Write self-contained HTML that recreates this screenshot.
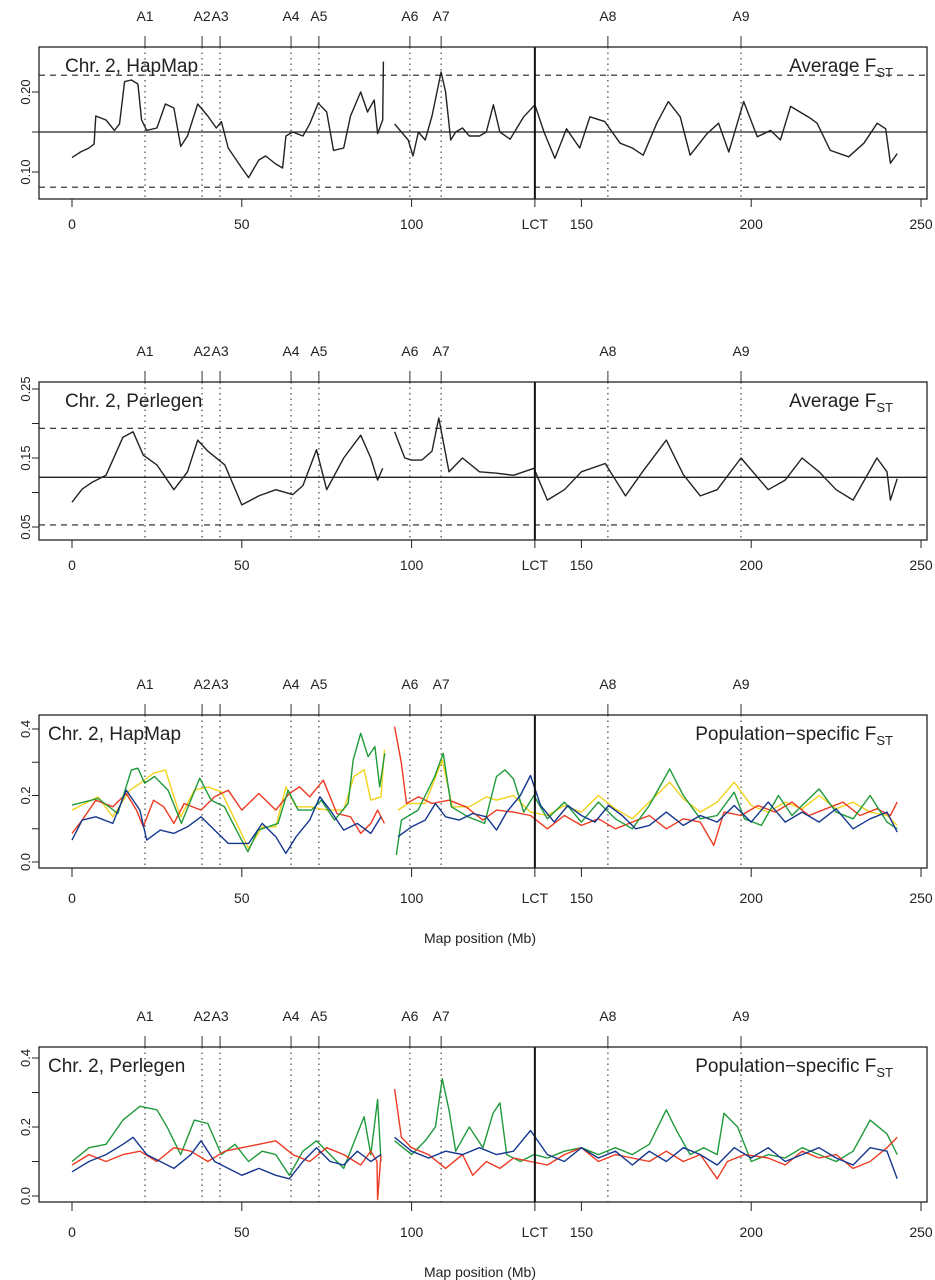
<!DOCTYPE html>
<html><head><meta charset="utf-8"><style>
body{margin:0;background:#fff}
svg{display:block;font-family:"Liberation Sans",sans-serif}
</style></head><body>
<svg id="c" width="935" height="1280" viewBox="0 0 935 1280"></svg>
<script>
// ---------- data ----------
const annotNames=["A1","A2","A3","A4","A5","A6","A7","A8","A9"];
const annotPos=[21.5,38.3,43.6,64.5,72.7,99.5,108.7,157.8,197];
const lctPos=136.3;
const xTicks=[0,50,100,150,200,250];

const hapAvgX=[0,2.5,5,6.5,7,10,12.5,14,15.5,17.5,19.4,20.5,22,25,27.5,30,32,34,37,40,42.5,44,46,50,52,55,57,60,62,63,65,68,70,72.5,75,77,80,82,85,87,89,90,91.5,91.7,93,95,97,99,100.4,102,104,106,108.7,110,111.5,113,115,117,120,122,124.1,126,129,133,136.3,139,142.2,145.6,149.5,152.5,156.9,161.4,165,168.2,172.2,175.6,179.1,182,187,190.4,193.4,197.8,201.8,205.7,208.6,211.6,217.5,219.4,223.3,228.7,233.2,237.1,239.6,241,243];
const hapAvgV=[0.118,0.125,0.130,0.135,0.170,0.165,0.152,0.160,0.213,0.215,0.210,0.165,0.152,0.155,0.185,0.180,0.132,0.145,0.185,0.170,0.155,0.163,0.130,0.105,0.093,0.115,0.120,0.110,0.105,0.145,0.150,0.145,0.160,0.186,0.175,0.127,0.130,0.170,0.200,0.175,0.190,0.148,0.165,0.238,null,0.160,0.150,0.140,0.120,0.150,0.140,0.170,0.225,0.200,0.140,0.150,0.155,0.145,0.145,0.150,0.184,0.150,0.141,0.169,0.184,0.150,0.117,0.154,0.130,0.169,0.163,0.136,0.130,0.121,0.161,0.188,0.169,0.121,0.148,0.161,0.125,0.188,0.144,0.152,0.140,0.182,0.167,0.161,0.127,0.119,0.136,0.161,0.154,0.111,0.123];

const perAvgX=[0,3,6,10,15,18,21,25,30,34,37,40,45,50,55,60,65,68,72,75,80,85,88,90,91.5,93,95,98,100,103,106,108,111,115,120,125,130,136,140,145,150,157,163,168,175,180,185,190,197,205,210,215,220,225,230,237,240,241,243];
const perAvgV=[0.086,0.105,0.115,0.125,0.180,0.188,0.154,0.140,0.104,0.130,0.176,0.160,0.140,0.082,0.095,0.104,0.097,0.110,0.162,0.104,0.150,0.183,0.150,0.118,0.135,null,0.188,0.150,0.147,0.147,0.160,0.208,0.130,0.150,0.130,0.128,0.125,0.135,0.089,0.104,0.130,0.142,0.095,0.130,0.176,0.126,0.095,0.104,0.150,0.104,0.118,0.150,0.130,0.104,0.089,0.150,0.130,0.089,0.120];

const hmGreenX=[0,7.7,13.5,17.5,19.4,21.4,24.3,28.3,32.2,37.6,41,44.9,48.9,51.8,54.8,60.7,63.6,66.6,70.5,73.4,77.3,81.3,82.8,85,87.2,89.2,90.6,92.1,93.5,95.5,97,101.9,106.8,109.3,111.7,116.6,121.5,125,127.5,130,133,136,140,145,150,155,160,165,170,176,180,185,190,195,198,203,208,212,216,220,225,230,235,240,243];
const hmGreenV=[0.171,0.191,0.146,0.277,0.282,0.237,0.257,0.216,0.116,0.252,0.186,0.166,0.086,0.031,0.096,0.116,0.216,0.156,0.156,0.186,0.126,0.176,0.307,0.387,0.317,0.347,0.226,0.327,null,0.021,0.126,0.156,0.257,0.327,0.166,0.136,0.116,0.257,0.277,0.25,0.15,0.2,0.13,0.18,0.12,0.18,0.13,0.1,0.17,0.28,0.2,0.13,0.14,0.21,0.13,0.11,0.2,0.14,0.18,0.22,0.15,0.13,0.2,0.12,0.1];
const hmYellowX=[0,7.7,12,17,20,24,27.5,30,32,36,40,44,48,52,56,60,63,66,70,75,80,83,86,88,91,92,93.5,96,99,104,109,112,117,122,125,130,135,140,145,150,155,160,165,170,176,180,185,190,195,200,205,210,215,220,225,230,235,240,243];
const hmYellowV=[0.156,0.196,0.136,0.216,0.236,0.267,0.277,0.196,0.136,0.216,0.226,0.211,0.126,0.041,0.106,0.106,0.226,0.166,0.166,0.156,0.156,0.257,0.277,0.186,0.196,0.337,null,0.156,0.176,0.176,0.307,0.166,0.166,0.196,0.186,0.2,0.15,0.14,0.17,0.15,0.2,0.16,0.13,0.18,0.24,0.19,0.15,0.18,0.24,0.17,0.15,0.18,0.16,0.2,0.16,0.18,0.15,0.14,0.11];
const hmRedX=[0,3,7,12,16,19,21,24,27,30,33,38,42,46,50,55,60,64,67,70,74,78,82,85,88,90,92,93.5,95,97,98.5,102,106,111,116,121,125,130,135,140,145,150,155,160,165,170,175,180,185,189,192,197,202,207,212,217,222,227,232,237,241,243];
const hmRedV=[0.086,0.126,0.186,0.166,0.206,0.156,0.106,0.186,0.166,0.116,0.176,0.156,0.196,0.216,0.156,0.206,0.156,0.206,0.226,0.196,0.246,0.146,0.136,0.086,0.116,0.156,0.116,null,0.407,0.297,0.176,0.196,0.176,0.186,0.166,0.126,0.156,0.15,0.14,0.1,0.14,0.11,0.13,0.1,0.12,0.14,0.1,0.13,0.12,0.05,0.15,0.14,0.17,0.15,0.18,0.14,0.16,0.18,0.14,0.16,0.14,0.18];
const hmBlueX=[0,3,7,12,16,20,22,26,30,34,38,42,46,52,56,60,63,66,70,73,76,80,84,88,91,93.5,96,100,104,107,110,114,118,122,125,128,132,135,138,142,146,150,154,158,162,166,170,175,180,185,190,195,200,205,210,215,220,225,230,235,240,243];
const hmBlueV=[0.066,0.126,0.136,0.116,0.216,0.156,0.066,0.096,0.086,0.106,0.136,0.096,0.056,0.056,0.116,0.076,0.026,0.076,0.126,0.196,0.156,0.096,0.116,0.086,0.136,null,0.076,0.106,0.126,0.176,0.136,0.126,0.146,0.136,0.096,0.15,0.2,0.26,0.17,0.12,0.17,0.14,0.12,0.17,0.14,0.1,0.11,0.15,0.11,0.14,0.12,0.17,0.12,0.18,0.12,0.15,0.12,0.16,0.1,0.13,0.15,0.09];

const plGreenX=[0,5,10,15,20,25,28,32,36,40,44,48,52,56,60,64,68,72,76,80,84,86,88,90,91,93,95,100,104,107,109,111,113,117,121,124,126,128,132,136,140,145,150,155,160,165,170,175,178,182,186,190,192,196,200,205,210,215,220,225,230,235,240,243];
const plGreenV=[0.1,0.14,0.15,0.22,0.26,0.25,0.2,0.12,0.22,0.21,0.12,0.15,0.1,0.13,0.12,0.06,0.13,0.16,0.12,0.08,0.18,0.23,0.12,0.28,0.1,null,0.16,0.12,0.16,0.2,0.34,0.25,0.13,0.2,0.14,0.24,0.27,0.12,0.1,0.12,0.11,0.13,0.14,0.12,0.14,0.12,0.15,0.25,0.19,0.12,0.14,0.12,0.24,0.2,0.1,0.12,0.11,0.14,0.12,0.1,0.13,0.22,0.18,0.12];
const plBlueX=[0,5,10,15,18,22,26,30,35,38,42,46,50,55,60,64,68,72,76,80,84,88,91,93,95,100,105,110,115,120,125,130,135,140,145,150,155,160,165,170,175,180,185,190,195,200,205,210,215,220,225,230,235,240,243];
const plBlueV=[0.07,0.1,0.12,0.15,0.17,0.12,0.1,0.08,0.12,0.16,0.1,0.08,0.06,0.08,0.06,0.05,0.1,0.14,0.1,0.09,0.13,0.1,0.12,null,0.17,0.13,0.11,0.13,0.12,0.14,0.12,0.13,0.19,0.12,0.1,0.14,0.11,0.13,0.09,0.13,0.1,0.14,0.12,0.09,0.14,0.11,0.14,0.1,0.12,0.14,0.11,0.09,0.14,0.13,0.05];
const plRedX=[0,5,10,15,20,25,30,35,40,45,50,55,60,65,70,75,80,85,88,89.8,90,91,93,95,97,100,105,110,115,118,122,126,130,135,140,145,150,155,160,165,170,175,180,185,190,193,198,205,210,215,220,225,230,235,240,243];
const plRedV=[0.09,0.12,0.1,0.12,0.13,0.1,0.14,0.13,0.1,0.13,0.14,0.15,0.16,0.12,0.1,0.14,0.12,0.09,0.13,0.1,-0.01,0.12,null,0.31,0.17,0.14,0.12,0.08,0.12,0.06,0.1,0.08,0.11,0.1,0.09,0.12,0.14,0.1,0.12,0.11,0.1,0.13,0.1,0.12,0.05,0.1,0.12,0.11,0.09,0.13,0.11,0.12,0.08,0.1,0.14,0.17];

// ---------- drawing ----------
const NS="http://www.w3.org/2000/svg";
const svg=document.getElementById('c');
function mk(tag,attrs,parent){const e=document.createElementNS(NS,tag);for(const k in attrs)e.setAttribute(k,attrs[k]);(parent||svg).appendChild(e);return e;}
const xS=mb=>72+mb*3.396;
const L=39,R=927;

function panel(cfg){
  const g=mk('g',{});
  
  
  const yS=v=>cfg.y0-(v-cfg.v0)*cfg.k;
  annotNames.forEach((n,i)=>{
    const x=xS(annotPos[i]);
    const t=mk('text',{x:x,y:cfg.top-26,'font-size':14,'text-anchor':'middle',fill:'#222'},g);t.textContent=n;
    
    
    mk('line',{x1:x,x2:x,y1:cfg.top-11,y2:cfg.top,stroke:'#333','stroke-width':1},g);
    const d=mk('line',{x1:x,x2:x,y1:cfg.top,y2:cfg.bot,stroke:'#444','stroke-width':1.2,'stroke-dasharray':'1.5 4'},g);
    
    
  });
  (cfg.hlines||[]).forEach(h=>{
    mk('line',{x1:L,x2:R,y1:yS(h.v),y2:yS(h.v),stroke:'#222','stroke-width':h.dash?1.1:1.3,'stroke-dasharray':h.dash?'6 5':'none'},g);
  });
  cfg.series.forEach(s=>{
    let d='',pen=false;
    s.x.forEach((mb,i)=>{const v=s.v[i];if(v===null){pen=false;return;}
      d+=(pen?'L':'M')+xS(mb).toFixed(1)+' '+yS(v).toFixed(1);pen=true;});
    const p=mk('path',{d:d,fill:'none',stroke:s.color,'stroke-width':1.4,'stroke-linejoin':'round'},g);
    
    
  });
  mk('line',{x1:xS(lctPos),x2:xS(lctPos),y1:cfg.top,y2:cfg.bot,stroke:'#111','stroke-width':2},g);
  const b=mk('rect',{x:L,y:cfg.top,width:R-L,height:cfg.bot-cfg.top,fill:'none',stroke:'#222','stroke-width':1.3},g);
  
  
  const xt=xTicks.map(v=>({p:v,l:String(v)})).concat([{p:lctPos,l:'LCT'}]);
  xt.forEach(t=>{const x=xS(t.p);
    mk('line',{x1:x,x2:x,y1:cfg.bot,y2:cfg.bot+cfg.tk,stroke:'#222'},g);
    const tx=mk('text',{x:x,y:cfg.bot+cfg.lab,'font-size':14,'text-anchor':'middle',fill:'#222'},g);tx.textContent=t.l;
    
    
  });
  cfg.yt.forEach(v=>{const y=yS(v);mk('line',{x1:L-7,x2:L,y1:y,y2:y,stroke:'#222'},g);});
  cfg.yl.forEach(v=>{const y=yS(v);
    const t=mk('text',{x:0,y:0,'font-size':13,'text-anchor':'middle',fill:'#222',transform:`translate(30 ${y}) rotate(-90)`},g);
    t.textContent=v.toFixed(cfg.dec);
    
    
  });
  const tt=mk('text',{x:cfg.titleX,y:cfg.top+25,'font-size':19,fill:'#222'},g);tt.textContent=cfg.title;
  
  
  const rt=mk('text',{x:893,y:cfg.top+25,'font-size':19,'text-anchor':'end',fill:'#222'},g);
  rt.innerHTML=cfg.right+' F<tspan font-size="13" dy="5">ST</tspan>';
  
  
  if(cfg.xlab){const xl=mk('text',{x:480,y:cfg.bot+75,'font-size':14,'text-anchor':'middle',fill:'#222'},g);xl.textContent='Map position (Mb)';
    
    }
}

panel({name:'panel-hapmap-average',top:47,bot:199,y0:92,v0:0.20,k:800,dec:2,tk:8,lab:30,yt:[0.10,0.15,0.20],yl:[0.10,0.20],
  hlines:[{v:0.150},{v:0.221,dash:1},{v:0.081,dash:1}],title:'Chr. 2, HapMap',titleX:65,right:'Average',
  series:[{name:'hapmap-average-fst-line',color:'#222',x:hapAvgX,v:hapAvgV}]});
panel({name:'panel-perlegen-average',top:382,bot:540,y0:458,v0:0.15,k:690,dec:2,tk:8,lab:30,yt:[0.05,0.10,0.15,0.20,0.25],yl:[0.05,0.15,0.25],
  hlines:[{v:0.122},{v:0.193,dash:1},{v:0.053,dash:1}],title:'Chr. 2, Perlegen',titleX:65,right:'Average',
  series:[{name:'perlegen-average-fst-line',color:'#222',x:perAvgX,v:perAvgV}]});
panel({name:'panel-hapmap-population',top:715,bot:868,y0:862,v0:0,k:332.5,dec:1,tk:9,lab:35,yt:[0,0.1,0.2,0.3,0.4],yl:[0,0.2,0.4],
  title:'Chr. 2, HapMap',titleX:48,right:'Population\u2212specific',xlab:1,
  series:[{name:'hapmap-yellow-line',color:'#f2d21b',x:hmYellowX,v:hmYellowV},
          {name:'hapmap-red-line',color:'#ee3a22',x:hmRedX,v:hmRedV},
          {name:'hapmap-green-line',color:'#1f9a3a',x:hmGreenX,v:hmGreenV},
          {name:'hapmap-blue-line',color:'#14378f',x:hmBlueX,v:hmBlueV}]});
panel({name:'panel-perlegen-population',top:1047,bot:1202,y0:1196,v0:0,k:345,dec:1,tk:9,lab:35,yt:[0,0.1,0.2,0.3,0.4],yl:[0,0.2,0.4],
  title:'Chr. 2, Perlegen',titleX:48,right:'Population\u2212specific',xlab:1,
  series:[{name:'perlegen-green-line',color:'#1f9a3a',x:plGreenX,v:plGreenV},
          {name:'perlegen-red-line',color:'#ee3a22',x:plRedX,v:plRedV},
          {name:'perlegen-blue-line',color:'#14378f',x:plBlueX,v:plBlueV}]});
</script>
</body></html>
